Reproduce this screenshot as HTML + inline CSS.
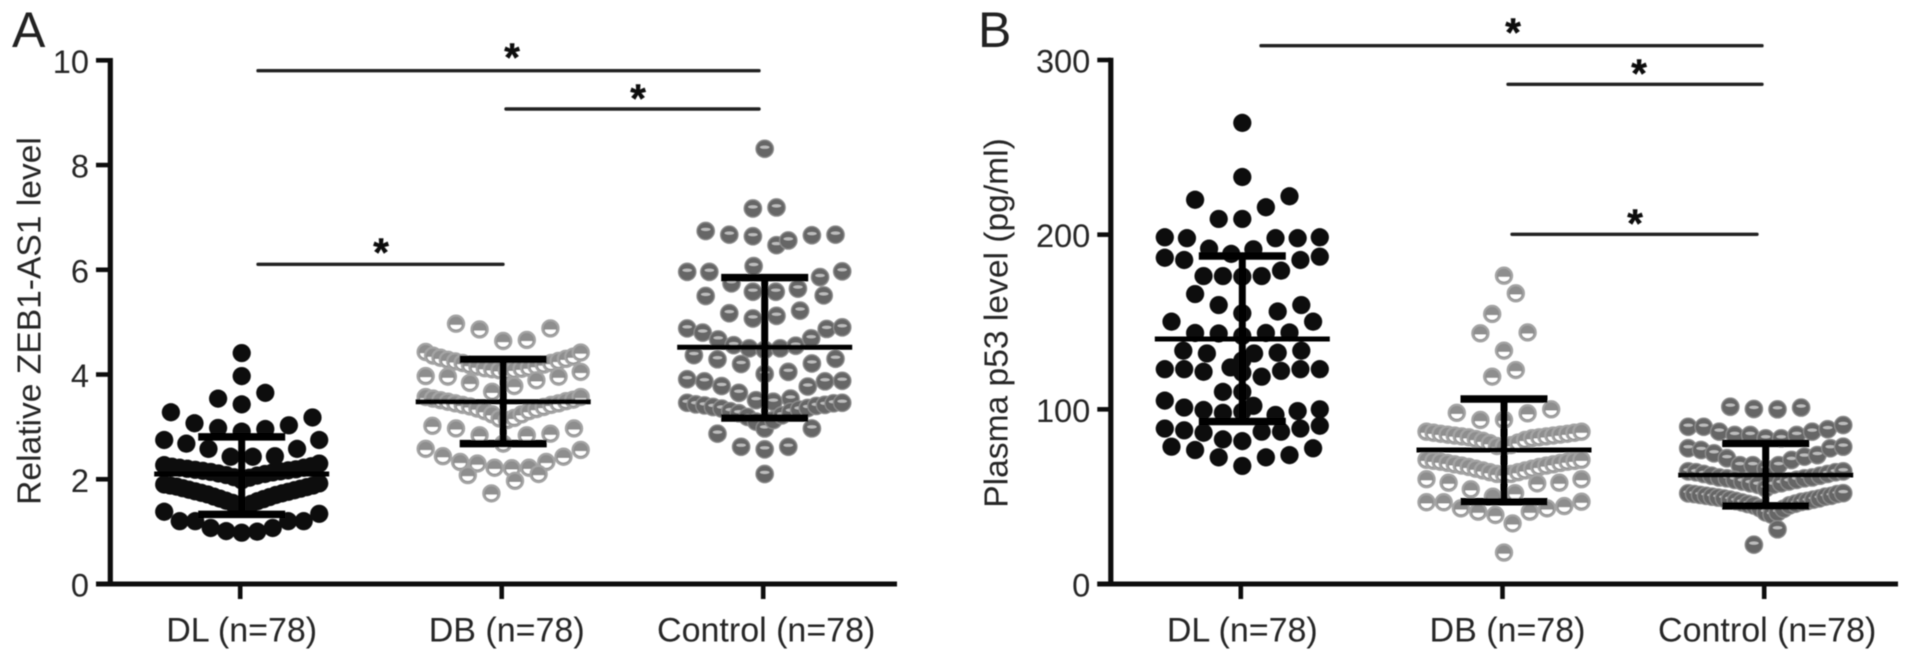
<!DOCTYPE html>
<html lang="en">
<head>
<meta charset="utf-8">
<title>ZEB1-AS1 and p53 levels</title>
<style>
html,body{margin:0;padding:0;background:#fff;width:1913px;height:661px;overflow:hidden}
svg{display:block}
text{font-family:"Liberation Sans",sans-serif;fill:#262626}
.sig{stroke:#222;stroke-width:3.4;stroke-linecap:round}
.star{font-size:40px;font-weight:bold;text-anchor:middle;fill:#111;stroke:#111;stroke-width:0.5}
.letter{font-size:50px;fill:#222}
.title{font-size:33.6px;text-anchor:middle}
</style>
</head>
<body>
<svg id="chart" xmlns="http://www.w3.org/2000/svg" width="1913" height="661" viewBox="0 0 1913 661">
  <defs><filter id="soft" x="-2%" y="-2%" width="104%" height="104%"><feGaussianBlur stdDeviation="0.55"/></filter></defs>
  <rect width="1913" height="661" fill="#fff"/>
  <g id="root" filter="url(#soft)">
    <text class="letter" x="12" y="47">A</text>
    <text class="letter" x="978" y="47">B</text>
    <text class="title" transform="translate(40.5 321) rotate(-90)">Relative ZEB1-AS1 level</text>
    <text class="title" transform="translate(1007.5 323) rotate(-90)">Plasma p53 level (pg/ml)</text>
    <g id="panelA"></g>
    <g id="panelB"></g>
    <line class="sig" x1="258" y1="70.7" x2="759" y2="70.7"/>
    <text class="star" x="512" y="71">*</text>
    <line class="sig" x1="506" y1="109" x2="759" y2="109"/>
    <text class="star" x="638" y="112">*</text>
    <line class="sig" x1="258" y1="264.3" x2="503" y2="264.3"/>
    <text class="star" x="381" y="266">*</text>
    <line class="sig" x1="1261" y1="45.7" x2="1762" y2="45.7"/>
    <text class="star" x="1513" y="46">*</text>
    <line class="sig" x1="1508" y1="84.3" x2="1762" y2="84.3"/>
    <text class="star" x="1639" y="87">*</text>
    <line class="sig" x1="1512" y1="234.3" x2="1757" y2="234.3"/>
    <text class="star" x="1635" y="237">*</text>
  </g>
</svg>
<script>
const categories = ['DL (n=78)', 'DB (n=78)', 'Control (n=78)'];
const categoryKeys = ['dl', 'db', 'control'];

const ticksA = [0, 2, 4, 6, 8, 10];
const ticksB = [0, 100, 200, 300];

// Each inner array is one swarm row, read left to right; null = empty slot in that row.
const seriesADL = [
  [4.41], [3.97], [3.54, 3.43, 3.65],
  [3.28, 3.07, 2.98, 2.91, 2.96, 3.03, 3.18],
  [2.75, 2.68, 2.58, 2.43, 2.43, 2.44, 2.58, 2.75],
  [2.27, 2.24, 2.22, 2.20, 2.18, 2.16, 2.14, 2.11, 2.08, 2.04, 1.98, 2.03, 2.07, 2.10, 2.13, 2.15, 2.17, 2.19, 2.22, 2.25, 2.30],
  [1.90, 1.88, 1.86, 1.83, 1.80, 1.77, 1.74, 1.71, 1.67, 1.63, 1.59, 1.55, 1.50, 1.48, 1.53, 1.58, 1.62, 1.66, 1.70, 1.73, 1.76, 1.79, 1.82, 1.85, 1.88, 1.92],
  [1.38, 1.20, 1.20, 1.07, 1.01, 0.98, 1.00, 1.07, 1.20, 1.20, 1.34]
];
const seriesADB = [
  [4.97, 4.86, 4.64, 4.66, 4.88],
  [4.43, 4.36, 4.32, 4.28, 4.25, 4.22, 4.18, 4.15, 4.12, 4.10, 4.08, 4.07, 4.09, 4.11, 4.13, 4.16, 4.19, 4.22, 4.26, 4.30, 4.34, 4.42],
  [3.97, 3.96, 3.84, 3.67, 3.78, 3.89, 3.96, 4.05],
  [3.57, 3.54, 3.51, 3.48, 3.45, 3.42, 3.39, 3.35, 3.30, 3.24, 3.16, 3.13, 3.17, 3.24, 3.30, 3.34, 3.38, 3.42, 3.45, 3.49, 3.52, 3.57],
  [3.02, 2.97, 2.84, 2.68, 2.84, 2.87, 2.97],
  [2.58, 2.44, 2.33, 2.30, 2.22, 2.21, 2.22, 2.33, 2.43, 2.56],
  [2.08, 1.73, 1.97, 2.10]
];
const seriesAControl = [
  [8.31], [7.17, 7.19],
  [6.74, 6.67, 6.64, 6.47, null, null],
  [null, null, null, null, 6.56, 6.66, 6.67],
  [5.96, 5.96, 5.74, 6.07, 5.58, 5.64, 5.86, 5.97],
  [5.50, null, 5.58, null, null, 5.51],
  [5.17, 5.07, 5.12, 5.22],
  [4.88, 4.80, 4.67, 4.56, 4.50, 4.47, 4.50, 4.55, 4.69, 4.87, 4.90],
  [4.37, 4.29, 4.20, 4.01, 4.05, 4.21, 4.30],
  [3.91, 3.87, 3.78, 3.65, 3.51, 3.48, 3.54, 3.77, 3.87, 3.88],
  [3.46, 3.43, 3.41, 3.38, 3.35, 3.30, 3.26, 3.19, 3.10, 2.97, 3.13, 3.22, 3.29, 3.33, 3.36, 3.40, 3.42, 3.45, 3.46],
  [2.87, 2.62, 2.57, 2.62, 2.97],
  [2.10]
];
const seriesBDL = [
  [264], [233], [220, 209, 209, 215.7, 222],
  [198.5, 198, 192, 189, 191.6, 198, 198, 198.5],
  [186.8, 185.5, 176.3, 176.3, 176, 176.3, 179.4, 185.5, 187.4],
  [166, 159.7, 155, null, null],
  [null, null, null, null, 156, 159.7],
  [150.2, 143.7, 143.4, 142, 143.7, 144, 150.2],
  [133.6, 132, null, 132, 132.4, 133.6],
  [128], [124, null],
  [123, 123, 121.5, null, null, 118.7, 122, 123, 123],
  [121],
  [null, null, null, 110, 110, null, null, null, null],
  [105, 101, 99.6, 98, 98.7, null, null, null, null],
  [null, null, null, null, 102, 96.8, 99, 100],
  [89, 88, 86.6, 82.8, 81.8, 87.2, 87.2, 89, 90.6],
  [78.6, 76.7, 72.5, 67.6, 72.5, 73.8, 77.7]
];
const seriesBDB = [
  [176.5], [154.6, 166.4], [143.5, 133.6, 144], [118.7, 122.5],
  [98, 93.9, 94, 97.7, 100],
  [87.2, 86.6, 86, 85.5, 85, 84.5, 84, 83, 82, 80.6, 79, 78.7, 79.5, 81, 82.5, 83.5, 84, 84.5, 85, 85.5, 86, 86.6, 87.2],
  [71.1, 70.5, 70, 69.3, 68.5, 67.8, 67, 66, 65, 64, 63, 62.6, 63, 64, 65, 66, 67, 67.8, 68.5, 69.3, 70, 70.5, 71.1],
  [60, 58, 54.2, 50, 52, 57.6, 58, 60],
  [46.8, 46.8, 43.3, 41.4, 39.5, 34.7, 41.4, 43.3, 44.6, 47.1],
  [18]
];
const seriesBControl = [
  [101.5, 100.2, 100, 101],
  [90, 90, 87.2, 85.3, 85.3, 83.4, 83.4, 85.3, 87.2, 88.6, 91],
  [77.7, 76.7, 74.8, 72, 68, 68, 66, 68, 71, 72.9, 73.8, 77.7, 78.6],
  [64.5, 64, 63, 62, 61, 60.5, 59.6, 58.7, 57.7, 56.8, 54.8, 56.8, 57.7, 58.7, 59.6, 60.5, 61, 62, 63, 64, 64.5],
  [51.9, 51.5, 51, 50.5, 50, 49.5, 49, 48.3, 47.5, 46.7, 45.8, 45, 43.5, 41, 39.7, 41, 43, 45, 46, 47, 47.5, 48.3, 49, 50, 50.5, 51.5, 52],
  [22.5, 31.3]
];

// mean, upper SD, lower SD for DL, DB, Control
const meansA = [2.10, 3.48, 4.52];
const uppersA = [2.81, 4.29, 5.85];
const lowersA = [1.33, 2.68, 3.17];
const meansB = [140.3, 76.7, 62.4];
const uppersB = [187.8, 105.9, 80.5];
const lowersB = [93, 47.1, 44.7];

const SVGNS = 'http://www.w3.org/2000/svg';
const MAX_PITCH = 23.6, MAX_SPREAD = 155, R = 9.1;

function mk(parent, tag, attrs) {
  const el = document.createElementNS(SVGNS, tag);
  for (const k in attrs) el.setAttribute(k, attrs[k]);
  parent.appendChild(el);
  return el;
}

function drawMark(g, key, cx, cy, name) {
  if (key === 'dl') {
    const dot = mk(g, 'circle', {cx: cx, cy: cy, r: R, fill: '#0a0a0a'});
    
    
  } else if (key === 'db') {
    const dot = mk(g, 'circle', {cx: cx, cy: cy, r: R - 1, fill: '#8e8e8e', stroke: '#a4a4a4', 'stroke-width': 2.2});
    
    
    const smile = mk(g, 'path', {d: 'M' + (cx - 5.6) + ' ' + (cy + 1.2) + 'A5.6 4.6 0 0 0 ' + (cx + 5.6) + ' ' + (cy + 1.2) + 'Z', fill: '#fff'});
    
    
  } else {
    const dot = mk(g, 'circle', {cx: cx, cy: cy, r: R - 0.4, fill: '#666', stroke: '#8c8c8c', 'stroke-width': 1.3});
    
    
    const shine = mk(g, 'ellipse', {cx: cx, cy: cy - 1.6, rx: 4.8, ry: 1.6, fill: '#bdbdbd'});
    
    
  }
}

function drawPanel(cfg) {
  const g = document.getElementById(cfg.id);
  const xAxisPos = i => cfg.x0 + cfg.step * i;
  const yAxisPos = v => cfg.yBottom - (v / cfg.max) * (cfg.yBottom - cfg.yTop);
  const labelNudge = [1, 4.5, 2.5];

  // swarms
  cfg.series.forEach((rows, c) => {
    const key = categoryKeys[c];
    const sg = mk(g, 'g', {});
    
    
    rows.forEach(row => {
      const n = row.length;
      const pitch = n > 1 ? Math.min(MAX_PITCH, MAX_SPREAD / (n - 1)) : 0;
      row.forEach((v, i) => {
        if (v === null) return;
        const cx = xAxisPos(c) + 1 + (i - (n - 1) / 2) * pitch;
        drawMark(sg, key, cx, yAxisPos(v), cfg.prefix + '-' + key + '-point');
      });
    });
  });

  // mean and SD bars
  cfg.means.forEach((m, c) => {
    const key = categoryKeys[c];
    const cx = xAxisPos(c) + 1;
    const mean = mk(g, 'line', {x1: cx - 87.5, x2: cx + 87.5, y1: yAxisPos(m), y2: yAxisPos(m), stroke: '#050505', 'stroke-width': 5});
    
    
    const stem = mk(g, 'line', {x1: cx, x2: cx, y1: yAxisPos(cfg.uppers[c]), y2: yAxisPos(cfg.lowers[c]), stroke: '#050505', 'stroke-width': 7});
    
    
    const capTop = mk(g, 'line', {x1: cx - 43.5, x2: cx + 43.5, y1: yAxisPos(cfg.uppers[c]), y2: yAxisPos(cfg.uppers[c]), stroke: '#050505', 'stroke-width': 7.5});
    
    
    const capBot = mk(g, 'line', {x1: cx - 43.5, x2: cx + 43.5, y1: yAxisPos(cfg.lowers[c]), y2: yAxisPos(cfg.lowers[c]), stroke: '#050505', 'stroke-width': 7.5});
    
    
  });

  // axes
  const yAxis = mk(g, 'line', {x1: cfg.axisX, x2: cfg.axisX, y1: yAxisPos(cfg.max) - 2.3, y2: cfg.yBottom + 2.5, stroke: '#111', 'stroke-width': 5.2});
  
  
  const xAxis = mk(g, 'line', {x1: cfg.tickLeft, x2: cfg.xEnd, y1: cfg.yBottom, y2: cfg.yBottom, stroke: '#111', 'stroke-width': 5});
  
  

  cfg.ticks.forEach(t => {
    const y = yAxisPos(t);
    const tick = mk(g, 'line', {x1: cfg.tickLeft, x2: cfg.axisX, y1: y, y2: y, stroke: '#111', 'stroke-width': 4.6});
    
    
    const label = mk(g, 'text', {x: cfg.tickLeft - 7, y: y + 12.5, 'text-anchor': 'end', 'font-size': 32.6});
    label.textContent = String(t);
    
    
  });

  categories.forEach((name, c) => {
    const x = xAxisPos(c);
    const tick = mk(g, 'line', {x1: x - 0.5, x2: x - 0.5, y1: cfg.yBottom, y2: cfg.yBottom + 15, stroke: '#111', 'stroke-width': 4.6});
    
    
    const label = mk(g, 'text', {x: x + labelNudge[c], y: 641.5, 'text-anchor': 'middle', 'font-size': 34});
    label.textContent = name;
    
    
  });
}

drawPanel({
  id: 'panelA', prefix: 'panel-a', x0: 240.7, step: 261.5, axisX: 110.3, tickLeft: 96, xEnd: 897,
  yTop: 60.3, yBottom: 584, max: 10, ticks: ticksA,
  series: [seriesADL, seriesADB, seriesAControl], means: meansA, uppers: uppersA, lowers: lowersA
});
drawPanel({
  id: 'panelB', prefix: 'panel-b', x0: 1241.3, step: 261.7, axisX: 1110.8, tickLeft: 1097.3, xEnd: 1898,
  yTop: 60, yBottom: 584, max: 300, ticks: ticksB,
  series: [seriesBDL, seriesBDB, seriesBControl], means: meansB, uppers: uppersB, lowers: lowersB
});
</script>
</body>
</html>
